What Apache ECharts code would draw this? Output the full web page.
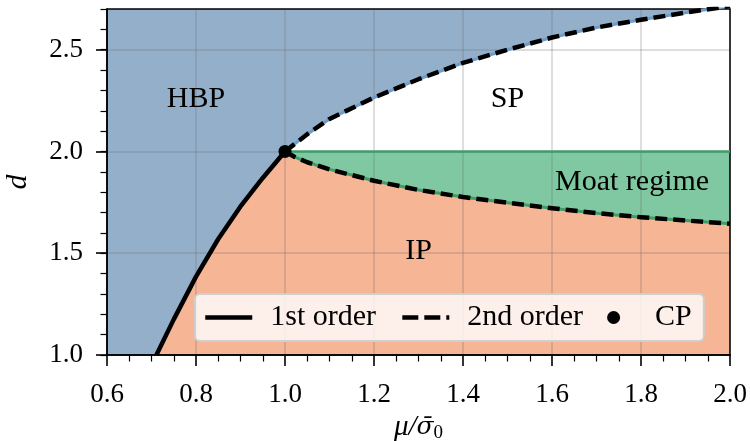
<!DOCTYPE html>
<html>
<head>
<meta charset="utf-8">
<script src="https://cdn.jsdelivr.net/npm/echarts@6/dist/echarts.min.js"></script>
<style>
  html, body { margin: 0; padding: 0; background: #fff; }
  #chart { width: 750px; height: 441px; }
</style>
</head>
<body>
<div id="chart"></div>
<script>
// Phase boundaries in the (mu / sigma0, d) plane
const firstOrderX = [0.711, 0.75, 0.80, 0.85, 0.90, 0.95, 1.00];
const firstOrderD = [1.000, 1.175, 1.385, 1.570, 1.730, 1.870, 2.000];

const upperX = [1.00, 1.05, 1.10, 1.20, 1.30, 1.40, 1.50, 1.60, 1.70, 1.80, 1.90, 2.00];
const upperD = [2.000, 2.085, 2.160, 2.265, 2.355, 2.435, 2.500, 2.560, 2.609, 2.647, 2.682, 2.715];

const lowerX = [1.00, 1.02, 1.05, 1.10, 1.20, 1.30, 1.40, 1.50, 1.60, 1.70, 1.80, 1.90, 2.00];
const lowerD = [2.000, 1.975, 1.947, 1.912, 1.856, 1.811, 1.776, 1.748, 1.721, 1.697, 1.677, 1.661, 1.645];

const moatTopD = 2.0;
const criticalPoint = [1.0, 2.0];

// Axis ranges and ticks
const xMin = 0.6, xMax = 2.0, xStep = 0.2;
const yMin = 1.0, yMax = 2.7, yStep = 0.5, yMinorStep = 0.1;
const yMajorTicks = [1.0, 1.5, 2.0, 2.5];

// Region names and their label anchors
const regionNames = ['HBP', 'SP', 'Moat regime', 'IP'];
const regionLabelX = [0.80, 1.50, 1.78, 1.30];
const regionLabelD = [2.255, 2.255, 1.85, 1.51];

const SERIF = "'Liberation Serif', 'Times New Roman', serif";
const zip = (xs, ys) => xs.map((x, i) => [x, ys[i]]);

// Region polygons (vertex lists in data space)
const hbpPoly = [[xMin, yMin]].concat(zip(firstOrderX, firstOrderD), zip(upperX, upperD).slice(1), [[xMax, yMax + 0.05], [xMin, yMax + 0.05]]);
const ipPoly = zip(firstOrderX, firstOrderD).concat(zip(lowerX, lowerD).slice(1), [[xMax, yMin]]);
const moatPoly = zip(lowerX, lowerD).concat([[xMax, moatTopD]]);

function regionSeries(name, poly, fill) {
  return {
    type: 'custom', name: name, coordinateSystem: 'cartesian2d', clip: true,
    silent: true, z: 1,
    data: [poly[0]],
    renderItem: function (params, api) {
      return {
        type: 'polygon',
        shape: { points: poly.map(p => api.coord(p)) },
        style: { fill: fill, stroke: null }
      };
    }
  };
}

function lineSeries(name, data, color, width, type, z) {
  return {
    type: 'line', name: name, data: data, symbol: 'none', silent: true,
    clip: true, z: z, smooth: false,
    lineStyle: { color: color, width: width, type: type, cap: 'butt', join: 'round' },
    itemStyle: { color: color }
  };
}

const hiddenMarker = { color: 'transparent', borderWidth: 0, opacity: 0 };

const chart = echarts.init(document.getElementById('chart'), null, { renderer: 'canvas' });

chart.setOption({
  animation: false,
  backgroundColor: '#ffffff',
  grid: {
    left: 107, right: 20, top: 9, bottom: 86,
    outerBoundsMode: 'none', containLabel: false,
    show: true, backgroundColor: 'transparent',
    borderColor: '#000', borderWidth: 1.5, z: 4
  },
  xAxis: {
    type: 'value', min: xMin, max: xMax, interval: xStep, z: 3,
    name: '{a|μ/}{b|σ̄}{s|0}', nameLocation: 'middle', nameGap: 56,
    nameTextStyle: {
      rich: {
        a: { fontFamily: SERIF, fontStyle: 'italic', fontSize: 29, color: '#000' },
        b: { fontFamily: "'DejaVu Serif', serif", fontStyle: 'italic', fontSize: 25, color: '#000' },
        s: { fontFamily: SERIF, fontSize: 19, color: '#000', padding: [12, 0, 0, 0] }
      }
    },
    axisLine: { show: true, onZero: false, lineStyle: { color: '#000', width: 1.5 } },
    axisTick: { show: true, inside: false, length: 11, lineStyle: { color: '#000', width: 1.6 } },
    minorTick: { show: true, splitNumber: 4, length: 6.5, lineStyle: { color: '#000', width: 1.2 } },
    axisLabel: {
      margin: 26, fontFamily: SERIF, fontSize: 27, color: '#000',
      formatter: v => v.toFixed(1)
    },
    splitLine: { show: true, lineStyle: { color: 'rgba(110,110,110,0.3)', width: 1.5 } }
  },
  yAxis: [{
    type: 'value', min: yMin, max: yMax, interval: yStep, z: 3,
    name: 'd', nameLocation: 'middle', nameGap: 74, nameRotate: 90,
    nameTextStyle: { fontFamily: SERIF, fontStyle: 'italic', fontSize: 30, color: '#000' },
    axisLine: { show: true, onZero: false, lineStyle: { color: '#000', width: 1.5 } },
    axisTick: { show: true, length: 11, customValues: yMajorTicks, lineStyle: { color: '#000', width: 1.6 } },
    axisLabel: {
      margin: 24, fontFamily: SERIF, fontSize: 27, color: '#000',
      customValues: yMajorTicks, formatter: v => v.toFixed(1)
    },
    splitLine: { show: true, lineStyle: { color: 'rgba(110,110,110,0.3)', width: 1.5 } }
  }, {
    // minor ticks every 0.1 along d
    type: 'value', min: yMin, max: yMax, interval: yMinorStep, position: 'left', z: 3,
    axisLine: { show: false }, axisLabel: { show: false }, splitLine: { show: false },
    axisTick: { show: true, length: 6.5, lineStyle: { color: '#000', width: 1.2 } }
  }],
  legend: {
    data: [
      { name: '1st order', itemStyle: hiddenMarker, lineStyle: { width: 4.5, type: 'solid', color: '#000' } },
      { name: '2nd order', itemStyle: hiddenMarker, lineStyle: { width: 4.5, type: [16, 6], color: '#000' } },
      { name: 'CP', itemStyle: { color: '#000', opacity: 1 } }
    ],
    left: 195, top: 294, orient: 'horizontal',
    padding: [8.5, 12, 8.5, 8],
    itemWidth: 47, itemHeight: 13, itemGap: 24,
    backgroundColor: 'rgba(255,255,255,0.8)',
    borderColor: '#cfcfcf', borderWidth: 2, borderRadius: 5,
    textStyle: { fontFamily: SERIF, fontSize: 30, color: '#000', padding: [0, 0, 0, 13] },
    selectedMode: false, z: 20
  },
  series: [
    regionSeries('HBP', hbpPoly, '#94afc9'),
    regionSeries('IP', ipPoly, '#f6b594'),
    regionSeries('Moat regime', moatPoly, '#80c8a2'),
    lineSeries('moatTop', [[lowerX[0], moatTopD], [lowerX[lowerX.length - 1], moatTopD]], '#3f9d68', 2.5, 'solid', 6),
    lineSeries('upperEdge', zip(upperX, upperD), '#6f9cc8', 3, 'solid', 6),
    lineSeries('lowerEdge', zip(lowerX, lowerD), '#3f9d68', 3, 'solid', 6),
    lineSeries('2nd order', zip(upperX, upperD), '#000', 4.5, [12, 6], 7),
    lineSeries('2nd order', zip(lowerX, lowerD), '#000', 4.5, [12, 6], 7),
    lineSeries('1st order', zip(firstOrderX, firstOrderD), '#000', 4.5, 'solid', 7),
    {
      type: 'scatter', name: 'CP', data: [criticalPoint], symbol: 'circle', symbolSize: 13,
      itemStyle: { color: '#000', opacity: 1 }, z: 9, silent: true
    },
    {
      type: 'scatter', name: 'regionLabels', silent: true, z: 8,
      data: regionNames.map((n, i) => ({ name: n, value: [regionLabelX[i], regionLabelD[i]] })),
      symbolSize: 0,
      itemStyle: { opacity: 1 },
      label: {
        show: true, position: 'inside', formatter: p => p.name,
        fontFamily: SERIF, fontSize: 30, color: '#000', opacity: 1
      }
    }
  ]
});
</script>
</body>
</html>
